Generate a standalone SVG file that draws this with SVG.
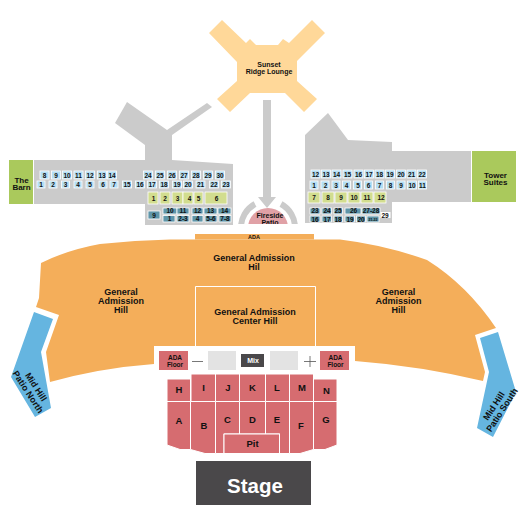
<svg xmlns="http://www.w3.org/2000/svg" width="525" height="520" viewBox="0 0 525 520">
<style>
text{font-family:"Liberation Sans",Arial,sans-serif;font-weight:bold;fill:#111;text-anchor:middle}
.g{fill:#cbcbcb}
.s{font-size:6.5px}
.l{font-size:9px}
.sm{font-size:7px}
.rot{font-size:9px}
.big{font-size:9.5px}
.b{fill:#b5def3;stroke:#fff;stroke-width:.8}
.y{fill:#d2dd8f;stroke:#fff;stroke-width:.8}
.t{fill:#5e95a9;stroke:#fff;stroke-width:.8}
.r{fill:#d66c70;stroke:#fff;stroke-width:1}
.o{fill:#f4ae5a}
.sky{fill:#65b5e0}
.lime{fill:#aac95c}
.dk{fill:#4a484a}
.lt{fill:#e3e3e3}
</style>
<defs><clipPath id="patioClip"><rect x="230" y="190" width="80" height="34"/></clipPath></defs>

<g id="venue-structures">
<path class="g" d="M127 102L167 130L207 103L212 107L172 135V160L233 164V225H145V204H34V160H145V145L115 123Z"/>
<path class="g" d="M305 135L328 113L348 140L392 142V151H471V202H392V223H305Z"/>
</g>

<g id="connectors">
<path class="g" d="M263 100H271V197H276L267 208L258 197H263Z"/>
<g clip-path="url(#patioClip)" fill="none" stroke="#cbcbcb" stroke-width="6">
<path d="M241 228A27 27 0 0 1 255 204"/>
<path d="M281 204A27 27 0 0 1 295 228"/>
</g>
</g>

<g id="sunset-ridge-lounge">
<path fill="#ffd899" d="M222 20L209 33L237 62V81L217 99L230 112L250 93H285L304 112L317 99L297 81V61L325 33L312 20L289 43L283 39L278 45H256L250 39L246 43Z"/>
<text class="sm" x="269" y="67">Sunset</text><text class="sm" x="269" y="73.500">Ridge Lounge</text>
</g>

<g id="the-barn"><rect class="lime" x="9" y="160" width="24" height="44"/>
<text font-size="8" x="21.500" y="182.500">The</text><text font-size="8" x="21.500" y="190">Barn</text></g>
<g id="tower-suites"><rect class="lime" x="472" y="151" width="44" height="51"/>
<text font-size="8" x="495.500" y="177.500">Tower</text><text font-size="8" x="495.500" y="185">Suites</text></g>

<g id="left-upper-seats">
<rect class="b" x="40" y="171" width="9" height="8"/><text class="s" x="44.500" y="177.500">8</text>
<rect class="b" x="51.500" y="171" width="9" height="8"/><text class="s" x="56" y="177.500">9</text>
<rect class="b" x="62.500" y="171" width="9" height="8"/><text class="s" x="67" y="177.500">10</text>
<rect class="b" x="74" y="171" width="9" height="8"/><text class="s" x="78.500" y="177.500">11</text>
<rect class="b" x="85.500" y="171" width="9" height="8"/><text class="s" x="90" y="177.500">12</text>
<rect class="b" x="97.500" y="171" width="9" height="8"/><text class="s" x="102" y="177.500">13</text>
<rect class="b" x="107.500" y="171" width="9" height="8"/><text class="s" x="112" y="177.500">14</text>
<rect class="b" x="143.500" y="171" width="9" height="8"/><text class="s" x="148" y="177.500">24</text>
<rect class="b" x="155.500" y="171" width="9" height="8"/><text class="s" x="160" y="177.500">25</text>
<rect class="b" x="167.500" y="171" width="9" height="8"/><text class="s" x="172" y="177.500">26</text>
<rect class="b" x="179.500" y="171" width="9" height="8"/><text class="s" x="184" y="177.500">27</text>
<rect class="b" x="191.500" y="171" width="9" height="8"/><text class="s" x="196" y="177.500">28</text>
<rect class="b" x="203.500" y="171" width="9" height="8"/><text class="s" x="208" y="177.500">29</text>
<rect class="b" x="215.500" y="171" width="9" height="8"/><text class="s" x="220" y="177.500">30</text>
</g>
<g id="left-lower-seats">
<rect class="b" x="37" y="181" width="8" height="7"/><text class="s" x="41" y="187">1</text>
<rect class="b" x="49" y="181" width="8" height="7"/><text class="s" x="53" y="187">2</text>
<rect class="b" x="61.500" y="181" width="8" height="7"/><text class="s" x="65.500" y="187">3</text>
<rect class="b" x="74" y="181" width="8" height="7"/><text class="s" x="78" y="187">4</text>
<rect class="b" x="86" y="181" width="8" height="7"/><text class="s" x="90" y="187">5</text>
<rect class="b" x="99" y="181" width="8" height="7"/><text class="s" x="103" y="187">6</text>
<rect class="b" x="110" y="181" width="8" height="7"/><text class="s" x="114" y="187">7</text>
<rect class="b" x="122.500" y="181" width="9" height="7"/><text class="s" x="127" y="187">15</text>
<rect class="b" x="135.500" y="181" width="9" height="7"/><text class="s" x="140" y="187">16</text>
<rect class="b" x="147.500" y="181" width="9" height="7"/><text class="s" x="152" y="187">17</text>
<rect class="b" x="159.500" y="181" width="9" height="7"/><text class="s" x="164" y="187">18</text>
<rect class="b" x="172.500" y="181" width="9" height="7"/><text class="s" x="177" y="187">19</text>
<rect class="b" x="183.500" y="181" width="9" height="7"/><text class="s" x="188" y="187">20</text>
<rect class="b" x="196" y="181" width="9" height="7"/><text class="s" x="200.500" y="187">21</text>
<rect class="b" x="209.500" y="181" width="9" height="7"/><text class="s" x="214" y="187">22</text>
<rect class="b" x="221.500" y="181" width="9" height="7"/><text class="s" x="226" y="187">23</text>
</g>
<g id="left-green-seats">
<rect class="y" x="148" y="192" width="10" height="12"/><text class="s" x="153.500" y="201">1</text>
<rect class="y" x="160" y="192" width="10" height="12"/><text class="s" x="165" y="201">2</text>
<rect class="y" x="172" y="192" width="11" height="12"/><text class="s" x="177.500" y="201">3</text>
<rect class="y" x="183" y="192" width="10" height="12"/><text class="s" x="189.500" y="201">4</text>
<rect class="y" x="194" y="192" width="9" height="12"/><text class="s" x="198.500" y="201">5</text>
<rect class="y" x="205" y="192" width="22" height="12"/><text class="s" x="216.500" y="201">6</text>
</g>
<g id="left-teal-seats">
<rect class="t" x="148" y="211" width="12" height="8"/><text class="s" x="154" y="217.500">9</text>
<rect class="t" x="163" y="208" width="14" height="6"/><text class="s" x="170" y="213">10</text>
<rect class="t" x="177" y="208" width="12" height="6"/><text class="s" x="183" y="213">11</text>
<rect class="t" x="192" y="208" width="11" height="6"/><text class="s" x="197.500" y="213">12</text>
<rect class="t" x="204" y="208" width="13" height="6"/><text class="s" x="210.500" y="213">13</text>
<rect class="t" x="218" y="208" width="13" height="6"/><text class="s" x="224.500" y="213">14</text>
<rect class="t" x="163" y="215.500" width="12" height="6.500"/><text class="s" x="169.500" y="221">1</text>
<rect class="t" x="177" y="215.500" width="12" height="6.500"/><text class="s" x="183" y="221">2-3</text>
<rect class="t" x="192" y="215.500" width="11" height="6.500"/><text class="s" x="197.500" y="221">4</text>
<rect class="t" x="205" y="215.500" width="12" height="6.500"/><text class="s" x="211" y="221">5-6</text>
<rect class="t" x="219" y="215.500" width="12" height="6.500"/><text class="s" x="225" y="221">7-8</text>
</g>

<g id="right-upper-seats">
<rect class="b" x="311" y="170" width="9" height="8"/><text class="s" x="315.500" y="176.500">12</text>
<rect class="b" x="321.500" y="170" width="9" height="8"/><text class="s" x="326" y="176.500">13</text>
<rect class="b" x="332" y="170" width="9" height="8"/><text class="s" x="336.500" y="176.500">14</text>
<rect class="b" x="343" y="170" width="9" height="8"/><text class="s" x="347.500" y="176.500">15</text>
<rect class="b" x="354" y="170" width="9" height="8"/><text class="s" x="358.500" y="176.500">16</text>
<rect class="b" x="364.500" y="170" width="9" height="8"/><text class="s" x="369" y="176.500">17</text>
<rect class="b" x="375" y="170" width="9" height="8"/><text class="s" x="379.500" y="176.500">18</text>
<rect class="b" x="385.500" y="170" width="9" height="8"/><text class="s" x="390" y="176.500">19</text>
<rect class="b" x="396.500" y="170" width="9" height="8"/><text class="s" x="401" y="176.500">20</text>
<rect class="b" x="407" y="170" width="9" height="8"/><text class="s" x="411.500" y="176.500">21</text>
<rect class="b" x="417.500" y="170" width="9" height="8"/><text class="s" x="422" y="176.500">22</text>
</g>
<g id="right-lower-seats">
<rect class="b" x="310" y="181" width="8" height="8"/><text class="s" x="314" y="187.500">1</text>
<rect class="b" x="321" y="181" width="8" height="8"/><text class="s" x="325.500" y="187.500">2</text>
<rect class="b" x="332" y="181" width="8" height="8"/><text class="s" x="336" y="187.500">3</text>
<rect class="b" x="342.500" y="181" width="8" height="8"/><text class="s" x="346.500" y="187.500">4</text>
<rect class="b" x="353.500" y="181" width="8" height="8"/><text class="s" x="358" y="187.500">5</text>
<rect class="b" x="364.500" y="181" width="8" height="8"/><text class="s" x="368.500" y="187.500">6</text>
<rect class="b" x="375.500" y="181" width="8" height="8"/><text class="s" x="379.500" y="187.500">7</text>
<rect class="b" x="386.500" y="181" width="8" height="8"/><text class="s" x="390.500" y="187.500">8</text>
<rect class="b" x="397" y="181" width="8" height="8"/><text class="s" x="401" y="187.500">9</text>
<rect class="b" x="407.500" y="181" width="9" height="8"/><text class="s" x="412" y="187.500">10</text>
<rect class="b" x="418.500" y="181" width="8" height="8"/><text class="s" x="422.500" y="187.500">11</text>
</g>
<g id="right-green-seats">
<rect class="y" x="308" y="192" width="12" height="11"/><text class="s" x="314" y="200">7</text>
<rect class="y" x="322" y="192" width="12" height="11"/><text class="s" x="328" y="200">8</text>
<rect class="y" x="335" y="192" width="12" height="11"/><text class="s" x="341" y="200">9</text>
<rect class="y" x="348" y="192" width="12" height="11"/><text class="s" x="354" y="200">10</text>
<rect class="y" x="361" y="192" width="12" height="11"/><text class="s" x="367" y="200">11</text>
<rect class="y" x="374" y="192" width="12" height="11"/><text class="s" x="381" y="200">12</text>
</g>
<g id="right-teal-seats">
<rect class="t" x="310" y="208" width="10" height="6"/><text class="s" x="315" y="213">23</text>
<rect class="t" x="322" y="208" width="9.500" height="6"/><text class="s" x="327" y="213">24</text>
<rect class="t" x="334" y="208" width="8.500" height="6"/><text class="s" x="338" y="213">25</text>
<rect class="t" x="345" y="208" width="16" height="6"/><text class="s" x="353.500" y="213">26</text>
<rect class="t" x="362" y="208" width="18" height="6"/><text class="s" x="371" y="213">27-28</text>
<rect x="380.500" y="212" width="10" height="6" fill="#fff"/><text class="s" x="385" y="217.500">29</text>
<rect class="t" x="310" y="216" width="10" height="6"/><text class="s" x="315" y="221.500">16</text>
<rect class="t" x="322" y="216" width="9.500" height="6"/><text class="s" x="327" y="221.500">17</text>
<rect class="t" x="334" y="216" width="8.500" height="6"/><text class="s" x="338" y="221.500">18</text>
<rect class="t" x="345" y="216" width="9.500" height="6"/><text class="s" x="350" y="221.500">19</text>
<rect class="t" x="356.500" y="216" width="9" height="6"/><text class="s" x="361" y="221.500">20</text>
<rect class="t" x="367" y="216" width="12" height="6"/><text font-size="3.500" x="373" y="220.500">21-22</text>
</g>

<g id="fireside-patio" clip-path="url(#patioClip)">
<circle cx="268" cy="228" r="20" fill="#e0a1a6"/>
<text class="sm" x="270" y="218">Fireside</text><text class="sm" x="270" y="224.500">Patio</text>
</g>

<g id="ada-hill"><rect class="o" x="195" y="234" width="119" height="5.500"/><text font-size="5.500" x="254" y="239">ADA</text></g>

<g id="general-admission">
<path class="o" d="M41 263Q67 250 100 244Q135 240 170 239.500H340Q385 245 427 260Q467 285 496 328L475 335L485 372L483 381Q420 366 355 361V346H154V364Q100 368 50 382L46 352L59 315L36 307L39 298Z"/>
<path fill="none" stroke="#fff" d="M195.500 346V286.500H315.500V346"/>
<text class="l" x="121" y="295">General</text><text class="l" x="121" y="304">Admission</text><text class="l" x="121" y="313">Hill</text>
<text class="l" x="254" y="260.500">General Admission</text><text class="l" x="254" y="269.500">Hil</text>
<text class="l" x="255" y="314.500">General Admission</text><text class="l" x="255" y="323.500">Center Hill</text>
<text class="l" x="398.500" y="295">General</text><text class="l" x="398.500" y="304">Admission</text><text class="l" x="398.500" y="313">Hill</text>
</g>

<g id="mid-hill-patio-north">
<path class="sky" d="M34 312L53 319L41 352L51 408L35 417L11 377Z"/>
<text class="rot" transform="translate(36 387) rotate(57)" x="0" y="3">Mid Hill</text>
<text class="rot" transform="translate(28 392) rotate(57)" x="0" y="3">Patio North</text>
</g>
<g id="mid-hill-patio-south">
<path class="sky" d="M480 338L498 332L516 392L493 437L477 428L489 372Z"/>
<text class="rot" transform="translate(494 406) rotate(-57)" x="0" y="3">Mid Hill</text>
<text class="rot" transform="translate(502 410) rotate(-57)" x="0" y="3">Patio South</text>
</g>

<g id="ada-floor-left"><rect fill="#d66c70" x="159" y="351" width="29" height="19"/><text font-size="6.500" x="175" y="360">ADA</text><text font-size="6.500" x="175" y="367">Floor</text></g>
<g id="ada-floor-right"><rect fill="#d66c70" x="320" y="351" width="29" height="19"/><text font-size="6.500" x="335.500" y="360">ADA</text><text font-size="6.500" x="335.500" y="367">Floor</text></g>
<g id="mix-area">
<rect class="lt" x="208" y="351" width="28" height="19"/><rect class="lt" x="270" y="351" width="28" height="19"/>
<rect class="dk" x="241" y="354" width="23" height="13"/>
<text font-size="7" style="fill:#fff" x="253" y="363">Mix</text>
<path fill="none" stroke="#555" stroke-width=".8" d="M192 361.500H203M304 361.500H316M310 356V367"/>
</g>

<g id="section-H"><path class="r" d="M167 379H190.500V401.500H167Z"/><text class="big" x="179" y="392.500">H</text></g>
<g id="section-I"><path class="r" d="M191 374H215.500V401.500H191Z"/><text class="big" x="203.500" y="391">I</text></g>
<g id="section-J"><path class="r" d="M215.500 374H239.500V401.500H215.500Z"/><text class="big" x="228" y="391">J</text></g>
<g id="section-K"><path class="r" d="M239.500 374H265.500V401.500H239.500Z"/><text class="big" x="252.500" y="391">K</text></g>
<g id="section-L"><path class="r" d="M265.500 374H289.500V401.500H265.500Z"/><text class="big" x="277" y="391">L</text></g>
<g id="section-M"><path class="r" d="M289.500 374H313.500V401.500H289.500Z"/><text class="big" x="302" y="391">M</text></g>
<g id="section-N"><path class="r" d="M313.500 379H337V401.500H313.500Z"/><text class="big" x="326.500" y="394">N</text></g>
<g id="section-A"><path class="r" d="M167 401.500H190.500V449.500H180L167 445Z"/><text class="big" x="179" y="423.500">A</text></g>
<g id="section-B"><path class="r" d="M190.500 401.500H215.500V453.500H205L190.500 449.500Z"/><text class="big" x="204" y="428.500">B</text></g>
<g id="section-C"><path class="r" d="M215.500 401.500H239.500V434H224V453.500H215.500Z"/><text class="big" x="227.500" y="422.500">C</text></g>
<g id="section-D"><path class="r" d="M239.500 401.500H265.500V434H239.500Z"/><text class="big" x="252.500" y="422.500">D</text></g>
<g id="section-E"><path class="r" d="M265.500 401.500H289.500V453.500H279.500V434H265.500Z"/><text class="big" x="277" y="422.500">E</text></g>
<g id="section-F"><path class="r" d="M289.500 401.500H313.500V449.500L300 453.500H289.500Z"/><text class="big" x="301" y="429">F</text></g>
<g id="section-G"><path class="r" d="M313.500 401.500H337V445L325 449.500H313.500Z"/><text class="big" x="326" y="423">G</text></g>
<g id="section-Pit"><rect class="r" x="224" y="434" width="55.500" height="19.500"/><text class="big" x="252.500" y="447">Pit</text></g>

<g id="stage"><rect class="dk" x="196" y="461" width="115" height="44"/><text font-size="20.500" style="fill:#fff" x="255" y="493">Stage</text></g>
</svg>
